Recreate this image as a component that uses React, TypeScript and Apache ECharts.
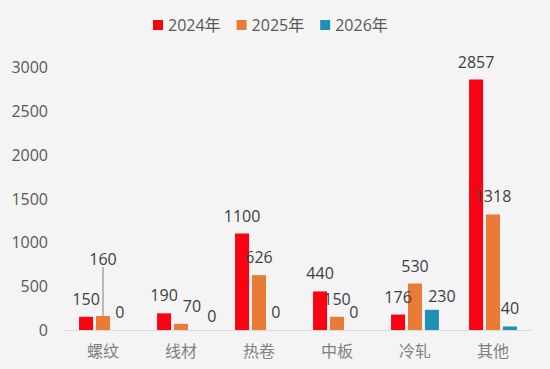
import React, { useEffect, useRef } from "react";
import * as echarts from "echarts";

const categories = ["螺纹", "线材", "热卷", "中板", "冷轧", "其他"];
const seriesNames = ["2024年", "2025年", "2026年"];
const values2024 = [150, 190, 1100, 440, 176, 2857];
const values2025 = [160, 70, 626, 150, 530, 1318];
const values2026 = [0, 0, 0, 0, 230, 40];
const colors = ["#ff0013", "#ea7b36", "#1f90b5"];

const FONT = "'Open Sans', 'Noto Sans CJK SC', sans-serif";

// label shifts (series index, category index) -> [dx, dy]
const labelShifts: Record<string, [number, number]> = {
  "1-0": [0, -39],
  "1-1": [11, 0],
  "2-1": [14, 4],
  "2-4": [10, 4],
};

export default function App() {
  const ref = useRef<HTMLDivElement>(null);
  useEffect(() => {
    const chart = echarts.init(ref.current!, undefined, { renderer: "svg" });
    const data = [values2024, values2025, values2026];
    chart.setOption({
      animation: false,
      backgroundColor: "#f4f4f4",
      textStyle: { fontFamily: FONT },
      legend: {
        top: 12,
        left: 148,
        itemWidth: 10,
        itemHeight: 10,
        itemGap: 16,
        icon: "rect",
        textStyle: { fontSize: 16, color: "#595959", fontFamily: FONT },
        data: seriesNames,
      },
      grid: { left: 64, right: 18, top: 67, bottom: 39, containLabel: false },
      xAxis: {
        type: "category",
        data: categories,
        axisLine: { lineStyle: { color: "#d9d9d9", width: 1 } },
        axisTick: { show: false },
        axisLabel: { fontSize: 16, color: "#808080", margin: 13, fontFamily: FONT },
      },
      yAxis: {
        type: "value",
        min: 0,
        max: 3000,
        interval: 500,
        splitLine: { show: false },
        axisLine: { show: false },
        axisTick: { show: false },
        axisLabel: {
          fontSize: 16,
          color: "#595959",
          margin: 16,
          fontFamily: FONT,
          formatter: (v: number) => String(v),
        },
      },
      series: seriesNames.map((name, si) => ({
        name,
        type: "bar",
        barWidth: 14,
        barGap: "21%",
        itemStyle: { color: colors[si] },
        label: {
          show: true,
          position: "top",
          distance: 10,
          fontSize: 16,
          color: "#404040",
          fontFamily: FONT,
        },
        labelLine: { show: false },
        labelLayout: (p: any) => {
          const s = labelShifts[`${si}-${p.dataIndex}`];
          return s ? { dx: s[0], dy: s[1] } : {};
        },
        data: data[si].map((v, i) =>
          si === 1 && i === 0
            ? {
                value: v,
                labelLine: {
                  show: true,
                  lineStyle: { color: "#a6a6a6", width: 1.5 },
                },
              }
            : v
        ),
      })),
    });
    return () => chart.dispose();
  }, []);
  return (
    <div
      ref={ref}
      style={{ position: "absolute", left: 0, top: 0, width: 550, height: 369 }}
    />
  );
}
